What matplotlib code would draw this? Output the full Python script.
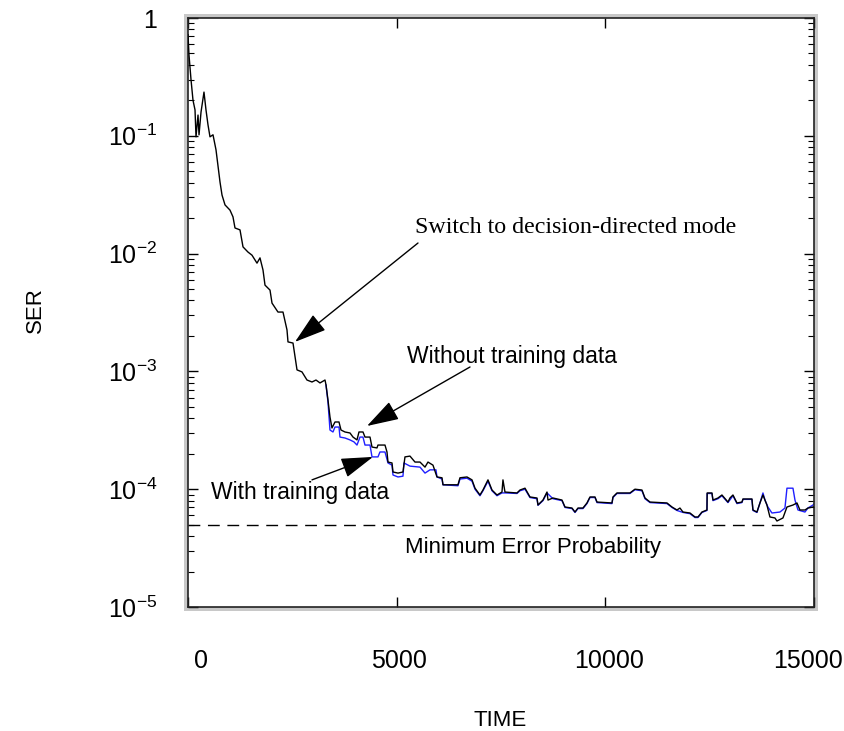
import matplotlib
matplotlib.use("Agg")
import matplotlib.pyplot as plt
from matplotlib.patches import Rectangle
from matplotlib.ticker import LogLocator, NullFormatter
from matplotlib.transforms import ScaledTranslation

plt.rcParams['font.family'] = ['Liberation Sans', 'DejaVu Sans']
plt.rcParams['mathtext.fontset'] = 'custom'
plt.rcParams['mathtext.rm'] = 'Liberation Sans'
plt.rcParams['mathtext.it'] = 'Liberation Sans:italic'

# ---- data ----
time_no_train = [0, 24, 72, 120, 168, 192, 240, 264, 312, 383,
                 431, 479, 527, 599, 671, 767, 815, 887, 1006, 1078,
                 1126, 1246, 1318, 1438, 1533, 1653, 1725, 1797, 1845, 1965,
                 2013, 2156, 2276, 2372, 2396, 2516, 2612, 2731, 2851, 2971,
                 3067, 3163, 3283, 3307, 3354, 3402, 3450, 3522, 3618, 3666,
                 3762, 3882, 3954, 4049, 4097, 4193, 4241, 4361, 4409, 4528,
                 4552, 4720, 4768, 4792, 4888, 4912, 5032, 5151, 5199, 5319,
                 5439, 5559, 5679, 5750, 5870, 5966, 6086, 6110, 6469, 6517,
                 6685, 6805, 6877, 6996, 7068, 7188, 7284, 7404, 7523, 7547,
                 7595, 7883, 7955, 8075, 8194, 8362, 8386, 8506, 8602, 8626,
                 8745, 8961, 9033, 9201, 9273, 9344, 9464, 9560, 9632, 9752,
                 9800, 10159, 10183, 10279, 10423, 10590, 10710, 10878, 10950, 11070,
                 11477, 11597, 11716, 11788, 11860, 12028, 12148, 12220, 12315, 12435,
                 12440, 12555, 12579, 12699, 12794, 12938, 12986, 13058, 13154, 13274,
                 13298, 13513, 13537, 13633, 13705, 13777, 13872, 13944, 14064, 14112,
                 14256, 14352, 14496, 14592, 14663, 14783, 14855, 14975, 15000]
ser_no_train = [0.72, 0.485, 0.30, 0.20, 0.166, 0.098, 0.150, 0.102, 0.159, 0.235,
                0.166, 0.124, 0.098, 0.102, 0.076, 0.0405, 0.0314, 0.0259, 0.0234, 0.0205,
                0.0165, 0.0159, 0.0114, 0.0103, 0.0097, 0.0083, 0.0092, 0.00726, 0.0054, 0.0049,
                0.0038, 0.00319, 0.00319, 0.00225, 0.00178, 0.00174, 0.00103, 0.00099, 0.000845, 0.000813,
                0.000845, 0.000798, 0.000845, 0.000767, 0.000572, 0.00041, 0.000331, 0.000372, 0.000372, 0.000318,
                0.000306, 0.0003, 0.000277, 0.000262, 0.000306, 0.000306, 0.000277, 0.000277, 0.000228, 0.000224,
                0.000237, 0.000237, 0.000207, 0.00017, 0.000167, 0.00014, 0.000137, 0.00014, 0.000188, 0.000191,
                0.00017, 0.00017, 0.000154, 0.00017, 0.00016, 0.000127, 0.000125, 0.000109, 0.000109, 0.000125,
                0.000127, 0.00012, 0.000102, 8.93e-5, 9.84e-5, 0.00012, 9.84e-5, 8.93e-5, 9.46e-5, 0.00012,
                9.46e-5, 9.29e-5, 9.84e-5, 0.000102, 8.59e-5, 8.42e-5, 7.34e-5, 8.09e-5, 9.46e-5, 8.09e-5,
                8.42e-5, 8.09e-5, 7.06e-5, 6.92e-5, 6.4e-5, 6.92e-5, 6.92e-5, 7.64e-5, 8.59e-5, 8.59e-5,
                7.78e-5, 7.64e-5, 8.59e-5, 9.29e-5, 9.29e-5, 9.29e-5, 1.0e-4, 9.84e-5, 8.42e-5, 7.78e-5,
                7.64e-5, 7.06e-5, 6.66e-5, 6.92e-5, 6.4e-5, 6.28e-5, 5.81e-5, 5.81e-5, 6.4e-5, 6.66e-5,
                9.29e-5, 9.29e-5, 8.09e-5, 8.42e-5, 8.93e-5, 7.78e-5, 8.42e-5, 8.93e-5, 7.64e-5, 7.78e-5,
                8.26e-5, 8.26e-5, 6.66e-5, 6.4e-5, 7.64e-5, 8.93e-5, 7.34e-5, 5.81e-5, 5.7e-5, 5.37e-5,
                5.7e-5, 7.06e-5, 7.34e-5, 7.64e-5, 6.66e-5, 6.66e-5, 6.92e-5, 7.06e-5, 7.06e-5]

time_train = [3307, 3354, 3402, 3474, 3522, 3618, 3642, 3762, 3882, 3977,
              4049, 4121, 4193, 4241, 4361, 4409, 4552, 4600, 4720, 4792,
              4888, 4912, 5032, 5151, 5175, 5319, 5559, 5679, 5798, 5942,
              5966, 6086, 6110,
              6469, 6517, 6685, 6805, 6877, 6996, 7068, 7188, 7284, 7404,
              7523, 7595, 7883, 7955, 8075, 8194, 8362, 8386, 8506, 8602,
              8745, 8961, 9033, 9201, 9273, 9344, 9464, 9560, 9632, 9752,
              9800, 10159, 10183, 10279, 10590, 10710, 10878, 10950, 11070, 11477,
              11597, 11716, 11860, 12028, 12148, 12220, 12315, 12435, 12440, 12555,
              12579, 12699, 12794, 12938, 13058, 13154, 13274, 13298, 13513, 13537,
              13633, 13705, 13777, 13825, 13896, 13992, 14184, 14304, 14352, 14496,
              14544, 14616, 14783, 14855, 14975, 15000]
ser_train = [0.000767, 0.00055, 0.000318, 0.000306, 0.000337, 0.000337, 0.000277, 0.000272, 0.000262, 0.000252,
             0.000237, 0.000277, 0.000277, 0.000237, 0.000237, 0.000188, 0.000188, 0.000207, 0.000207, 0.000167,
             0.00016, 0.000132, 0.000127, 0.000129, 0.000167, 0.000157, 0.000154, 0.000137, 0.000146, 0.000146,
             0.000127, 0.000122, 0.000109,
             0.000107, 0.000122, 0.000124, 0.000117, 0.0001, 8.8e-5, 9.7e-5, 0.000117, 9.7e-5, 8.8e-5,
             9.3e-5, 9.3e-5, 9.2e-5, 9.7e-5, 0.0001, 8.5e-5, 8.3e-5, 7.3e-5, 8.0e-5, 9.3e-5,
             8.3e-5, 8.0e-5, 7.0e-5, 6.85e-5, 6.35e-5, 6.85e-5, 6.85e-5, 7.55e-5, 8.5e-5, 8.5e-5,
             7.7e-5, 7.55e-5, 8.5e-5, 9.2e-5, 9.2e-5, 9.9e-5, 9.7e-5, 8.3e-5, 7.7e-5, 7.55e-5,
             7.0e-5, 6.6e-5, 6.35e-5, 6.2e-5, 5.75e-5, 5.75e-5, 6.35e-5, 6.6e-5, 9.2e-5, 9.2e-5,
             8.0e-5, 8.3e-5, 8.8e-5, 7.7e-5, 8.8e-5, 7.55e-5, 7.7e-5, 8.2e-5, 8.2e-5, 6.6e-5,
             6.35e-5, 7.64e-5, 9.29e-5, 8.09e-5, 7.06e-5, 6.28e-5, 6.4e-5, 6.92e-5, 1.02e-4, 1.02e-4,
             8.09e-5, 6.66e-5, 6.4e-5, 6.92e-5, 7.34e-5, 7.5e-5]

min_error_prob = 5e-5
x_ticks = [0, 5000, 10000, 15000]
x_tick_labels = ['0', '5000', '10000', '15000']
y_ticks = [1, 1e-1, 1e-2, 1e-3, 1e-4, 1e-5]
y_tick_labels = ['1', r'$10^{-1}$', r'$10^{-2}$', r'$10^{-3}$', r'$10^{-4}$', r'$10^{-5}$']

# ---- figure ----
W, H = 845, 731
fig = plt.figure(figsize=(W / 100, H / 100), dpi=100)
fig.patch.set_facecolor('white')

ax_l, ax_r, ax_t, ax_b = 188, 814, 18, 607
ax = fig.add_axes([ax_l / W, 1 - ax_b / H, (ax_r - ax_l) / W, (ax_b - ax_t) / H])
frame = Rectangle((184 / W, 1 - 611 / H), (818 - 184) / W, (611 - 14) / H,
                  transform=fig.transFigure, facecolor='#c8c8c8', edgecolor='none', zorder=-1)
fig.add_artist(frame)
ax.set_zorder(1)

ax.plot(time_train, ser_train, color='#1f1fff', lw=1.0, zorder=2)
ax.plot(time_no_train, ser_no_train, color='black', lw=1.0, zorder=3)
ax.axhline(min_error_prob, color='black', lw=1.0, linestyle=(0, (8.5, 5.5)), zorder=2)

ax.set_yscale('log')
ax.set_xlim(0, 15000)
ax.set_ylim(1e-5, 1)

ax.set_xticks(x_ticks)
ax.set_xticklabels(x_tick_labels)
ax.set_yticks(y_ticks)
ax.set_yticklabels(y_tick_labels)
ax.yaxis.set_minor_locator(LogLocator(base=10, subs=range(2, 10), numticks=20))
ax.yaxis.set_minor_formatter(NullFormatter())

ax.tick_params(axis='both', which='both', direction='in', top=True, right=True, colors='black')
ax.tick_params(axis='y', which='major', length=7, width=1, pad=22, labelsize=18)
ax.tick_params(axis='y', which='minor', length=4, width=0.8)
ax.tick_params(axis='x', which='major', length=7, width=1, pad=30, labelsize=18)
for s in ax.spines.values():
    s.set_linewidth(1.2)
    s.set_color('#222222')

# small horizontal shifts of the x tick labels as in the reference
x_label_shift_px = [13, 2, 4, -6]
for lbl, dx in zip(ax.get_xticklabels(), x_label_shift_px):
    lbl.set_transform(lbl.get_transform() + ScaledTranslation(dx / 100, 0, fig.dpi_scale_trans))

arrow = dict(arrowstyle='-|>,head_length=0.8,head_width=0.25', mutation_scale=25,
             lw=1.0, color='black', shrinkA=0, shrinkB=0)

ax.annotate('', xy=(2564, 0.00178), xytext=(5511, 0.0123), arrowprops=arrow)
ax.text(5439, 0.0165, 'Switch to decision-directed mode', family='Liberation Serif',
        fontsize=17.3, ha='left', va='center')

ax.annotate('', xy=(4289, 0.000344), xytext=(6757, 0.00109), arrowprops=arrow)
ax.text(5247, 0.00135, 'Without training data', fontsize=16.5, ha='left', va='center')

ax.annotate('', xy=(4433, 0.000188), xytext=(2971, 0.00012), arrowprops=arrow)
ax.text(551, 9.46e-5, 'With training data', fontsize=16.5, ha='left', va='center')

ax.text(5199, 3.23e-5, 'Minimum Error Probability', fontsize=16, ha='left', va='center')

fig.text(35 / W, 1 - 310 / H, 'SER', rotation=90, fontsize=16, ha='center', va='center')
fig.text(500 / W, 1 - 720 / H, 'TIME', fontsize=16, ha='center', va='center')

fig.savefig('out.png', dpi=100)
